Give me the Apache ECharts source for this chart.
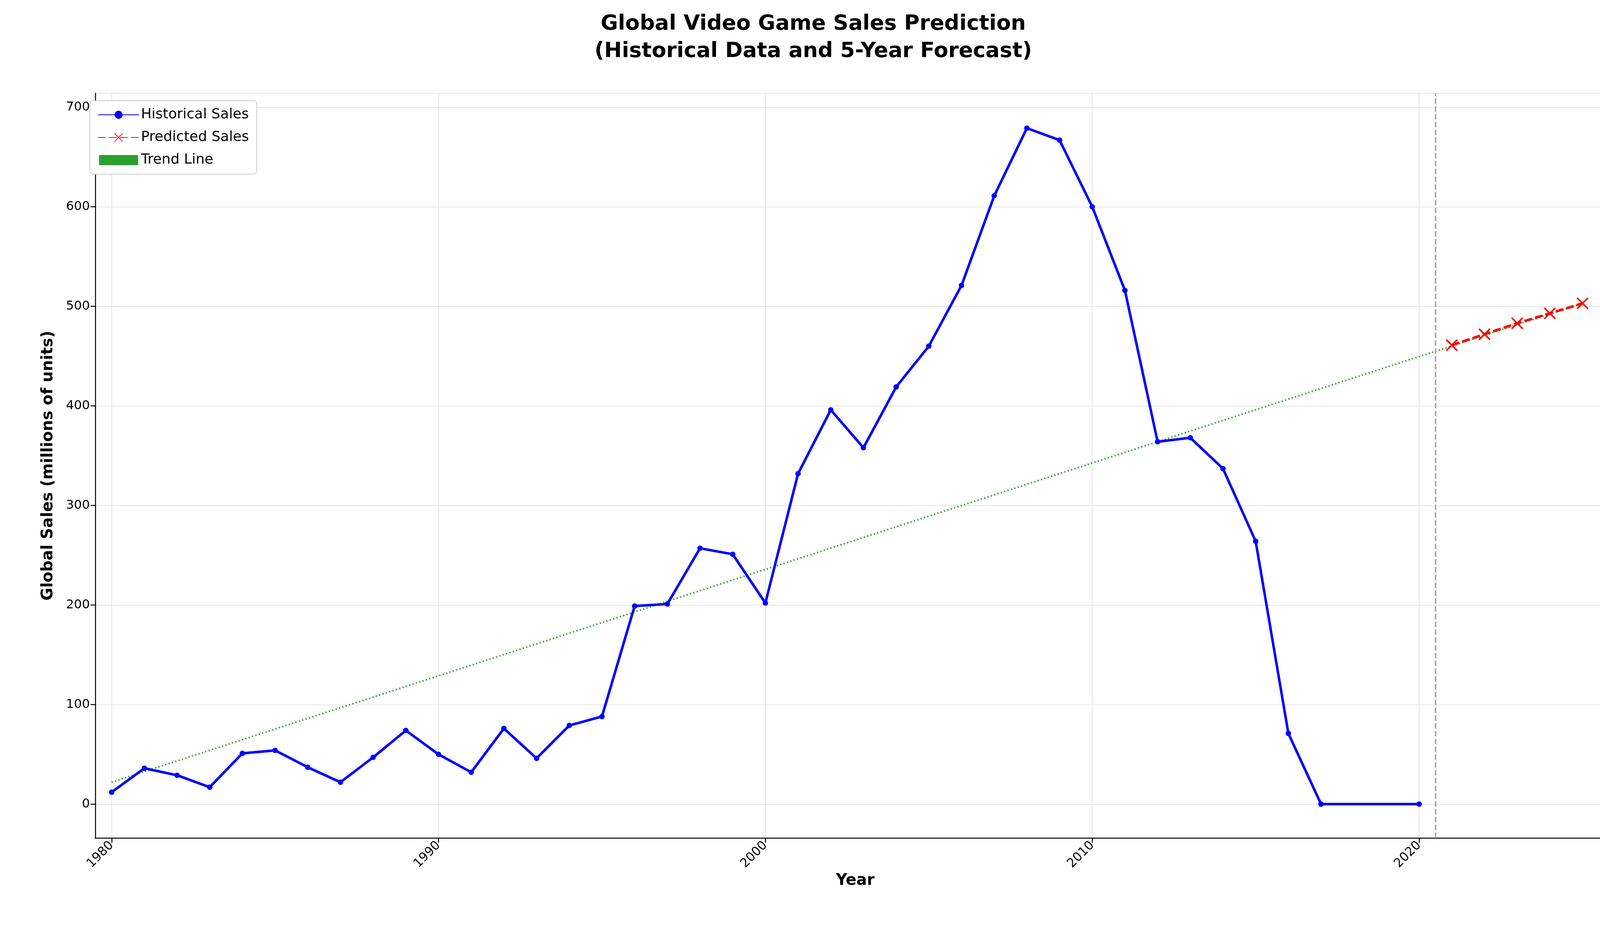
<!DOCTYPE html>
<html><head><meta charset="utf-8">
<script src="https://cdn.jsdelivr.net/npm/echarts@6/dist/echarts.min.js"></script>
<style>html,body{margin:0;padding:0;background:#fff;overflow:hidden}#c{width:4164px;height:2374px}</style>
</head><body><div id="c"></div>
<script>
const histYears = [1980,1981,1982,1983,1984,1985,1986,1987,1988,1989,1990,1991,1992,1993,1994,1995,1996,1997,1998,1999,2000,2001,2002,2003,2004,2005,2006,2007,2008,2009,2010,2011,2012,2013,2014,2015,2016,2017,2020];
const histSales = [12,36,29,17,51,54,37,22,47,74,50,32,76,46,79,88,199,201,257,251,202,332,396,358,419,460,521,611,679,667,600,516,364,368,337,264,71,0,0];
const predYears = [2021,2022,2023,2024,2025];
const predSales = [461,472,483,493,503];
const trendYears = [1980,2025];
const trendSales = [22,503];
const predStart = 2020.5;

const zip = (a,b)=>a.map((v,i)=>[v,b[i]]);
const chart = echarts.init(document.getElementById('c'));
const F = 'DejaVu Sans';
chart.setOption({
  animation:false,
  textStyle:{fontFamily:F},
  title:{text:'Global Video Game Sales Prediction\n(Historical Data and 5-Year Forecast)',left:'center',top:22,
    textStyle:{fontSize:54,fontWeight:'bold',color:'#000',lineHeight:70,fontFamily:F}},
  legend:{orient:'vertical',left:230,top:258,itemWidth:105,itemHeight:26,itemGap:22,
    padding:[18,20,18,20],borderColor:'#ccc',borderWidth:2,borderRadius:8,backgroundColor:'#fff',
    textStyle:{fontSize:36,color:'#000',fontFamily:F},
    data:['Historical Sales','Predicted Sales',{name:'Trend Line',icon:'path://M0,12L4,12L4,14L0,14ZM8,12L12,12L12,14L8,14ZM16,12L20,12L20,14L16,14ZM24,12L28,12L28,14L24,14ZM32,12L36,12L36,14L32,14ZM40,12L44,12L44,14L40,14ZM48,12L52,12L52,14L48,14ZM56,12L60,12L60,14L56,14ZM64,12L68,12L68,14L64,14ZM72,12L76,12L76,14L72,14ZM80,12L84,12L84,14L80,14ZM88,12L92,12L92,14L88,14ZM96,12L100,12L100,14L96,14ZM100,0L100,26L0,26L0,0Z'}]},
  grid:{left:244,right:29,top:239,bottom:228,containLabel:false},
  xAxis:{type:'value',min:1979.5,max:2026,name:'Year',nameLocation:'middle',nameGap:88,
    nameTextStyle:{fontSize:40,fontWeight:'bold',color:'#000'},
    axisLine:{onZero:false,lineStyle:{color:'#000',width:2.5}},axisTick:{lineStyle:{color:'#000',width:2.5},length:12},
    axisLabel:{fontSize:32,color:'#000',rotate:45,margin:14,showMinLabel:false,showMaxLabel:false,formatter:v=>String(v)},
    splitLine:{show:true,lineStyle:{color:'#e6e6e6',width:2}}},
  yAxis:{type:'value',min:-34,max:714,splitNumber:7,name:'Global Sales (millions of units)',nameLocation:'middle',nameGap:100,
    nameTextStyle:{fontSize:40,fontWeight:'bold',color:'#000'},
    axisLine:{show:true,onZero:false,lineStyle:{color:'#000',width:2.5}},axisTick:{show:true,lineStyle:{color:'#000',width:2.5},length:12},
    axisLabel:{fontSize:32,color:'#000',margin:14,showMinLabel:false,showMaxLabel:false},
    splitLine:{show:true,lineStyle:{color:'#e6e6e6',width:2}}},
  series:[
    {name:'Trend Line',type:'line',data:zip(trendYears,trendSales),showSymbol:false,symbol:'none',
      lineStyle:{color:'#2ca02c',width:4.5,type:[3,6]},itemStyle:{color:'#2ca02c'},z:2},
    {name:'Historical Sales',type:'line',data:zip(histYears,histSales),symbol:'circle',symbolSize:14,
      lineStyle:{color:'#0000ff',width:6.5},itemStyle:{color:'#0000ff'},z:3,
      markLine:{silent:true,symbol:'none',
        data:[
          {xAxis:predStart,label:{show:false}},
          [{coord:[predStart,450],lineStyle:{opacity:0}},{coord:[predStart,700]}]
        ],
        lineStyle:{color:'#aaa',width:4,type:[14,6]},
        label:{show:true,position:'insideMiddleTop',formatter:'Predictions Start',fontSize:36,color:'#555',distance:8}}},
    {name:'Predicted Sales',type:'line',data:zip(predYears,predSales),
      symbol:'path://M0,0L10,10M10,0L0,10',symbolSize:28,
      lineStyle:{color:'#ff0000',width:6.5,type:[20,8]},
      itemStyle:{color:'#ff0000',borderColor:'#ff0000',borderWidth:4},z:4}
  ]
});
</script></body></html>
